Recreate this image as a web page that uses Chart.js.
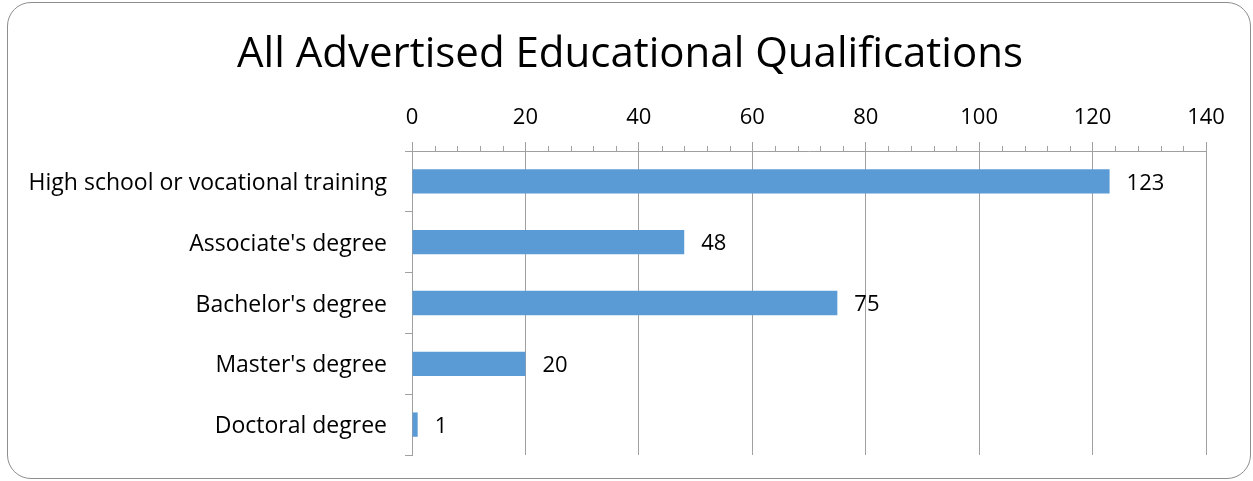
<!DOCTYPE html>
<html>
<head>
<meta charset="utf-8">
<script src="https://cdn.jsdelivr.net/npm/chart.js@4.4.0/dist/chart.umd.min.js"></script>
<style>
  html, body { margin: 0; padding: 0; background: #fff; }
  body { width: 1253px; height: 481px; position: relative; overflow: hidden; }
  .frame {
    position: absolute; left: 7px; top: 2px; width: 1242px; height: 475px;
    border: 1.5px solid #8e8e8e; border-radius: 24px;
  }
  #chart { position: absolute; left: 0; top: 0; }
</style>
</head>
<body>
<div class="frame"></div>
<canvas id="chart" width="1253" height="481"></canvas>
<script>
// ===== Data =====
const categories = [
  "High school or vocational training",
  "Associate's degree",
  "Bachelor's degree",
  "Master's degree",
  "Doctoral degree"
];
const counts = [123, 48, 75, 20, 1];
const xTicks = [0, 20, 40, 60, 80, 100, 120, 140];
const minorStep = 4;
const titleText = "All Advertised Educational Qualifications";

const FONT = "'Open Sans', 'Liberation Sans', sans-serif";
const GRID = "#a0a0a0";

// chart title, centred on the frame
const titleDraw = {
  id: "titleDraw",
  afterDraw(chart) {
    const ctx = chart.ctx;
    ctx.save();
    ctx.fillStyle = "#000";
    ctx.font = "42px " + FONT;
    ctx.textAlign = "center";
    ctx.textBaseline = "middle";
    ctx.fillText(titleText, 630, 55);
    ctx.restore();
  }
};

// minor tick marks on the top value axis
const minorTicks = {
  id: "minorTicks",
  afterDraw(chart) {
    const x = chart.scales.x;
    const ctx = chart.ctx;
    const y0 = x.bottom;
    ctx.save();
    ctx.strokeStyle = GRID;
    ctx.lineWidth = 1;
    for (let v = xTicks[0]; v <= xTicks[xTicks.length - 1]; v += minorStep) {
      if (v % 20 === 0) continue;
      const px = Math.round(x.getPixelForValue(v)) + 0.5;
      ctx.beginPath();
      ctx.moveTo(px, y0);
      ctx.lineTo(px, y0 - 5);
      ctx.stroke();
    }
    ctx.restore();
  }
};

// value labels to the right of each bar
const valueLabels = {
  id: "valueLabels",
  afterDatasetsDraw(chart) {
    const ctx = chart.ctx;
    const meta = chart.getDatasetMeta(0);
    ctx.save();
    ctx.fillStyle = "#000";
    ctx.font = "22px " + FONT;
    ctx.textAlign = "left";
    ctx.textBaseline = "middle";
    meta.data.forEach((bar, i) => {
      ctx.fillText(String(counts[i]), bar.x + 17, bar.y + 2);
    });
    ctx.restore();
  }
};

new Chart(document.getElementById("chart"), {
  type: "bar",
  data: {
    labels: categories,
    datasets: [{
      data: counts,
      backgroundColor: "#5b9bd5",
      borderWidth: 0,
      categoryPercentage: 1,
      barPercentage: 0.4
    }]
  },
  options: {
    indexAxis: "y",
    responsive: false,
    animation: false,
    layout: { padding: { left: 0, right: 47, top: 0, bottom: 26 } },
    plugins: {
      legend: { display: false },
      tooltip: { enabled: false },
      title: { display: false }
    },
    scales: {
      x: {
        position: "top",
        min: 0,
        max: 140,
        afterBuildTicks(s) { s.ticks = xTicks.map(v => ({ value: v })); },
        afterFit(s) { s.height = 151; },
        ticks: {
          color: "#000",
          font: { family: FONT, size: 22 },
          padding: 11
        },
        grid: { color: GRID, lineWidth: 1, tickLength: 9 },
        border: { color: GRID, width: 1 }
      },
      y: {
        afterFit(s) {
          s.width = 412;
          s.paddingTop = 0;
          s.paddingBottom = 0;
        },
        ticks: {
          color: "#000",
          font: { family: FONT, size: 23 },
          padding: 18,
          labelOffset: 2
        },
        grid: { display: true, drawOnChartArea: false, color: GRID, tickLength: 7, offset: true },
        border: { color: GRID, width: 1 }
      }
    }
  },
  plugins: [minorTicks, valueLabels, titleDraw]
});
</script>
</body>
</html>
